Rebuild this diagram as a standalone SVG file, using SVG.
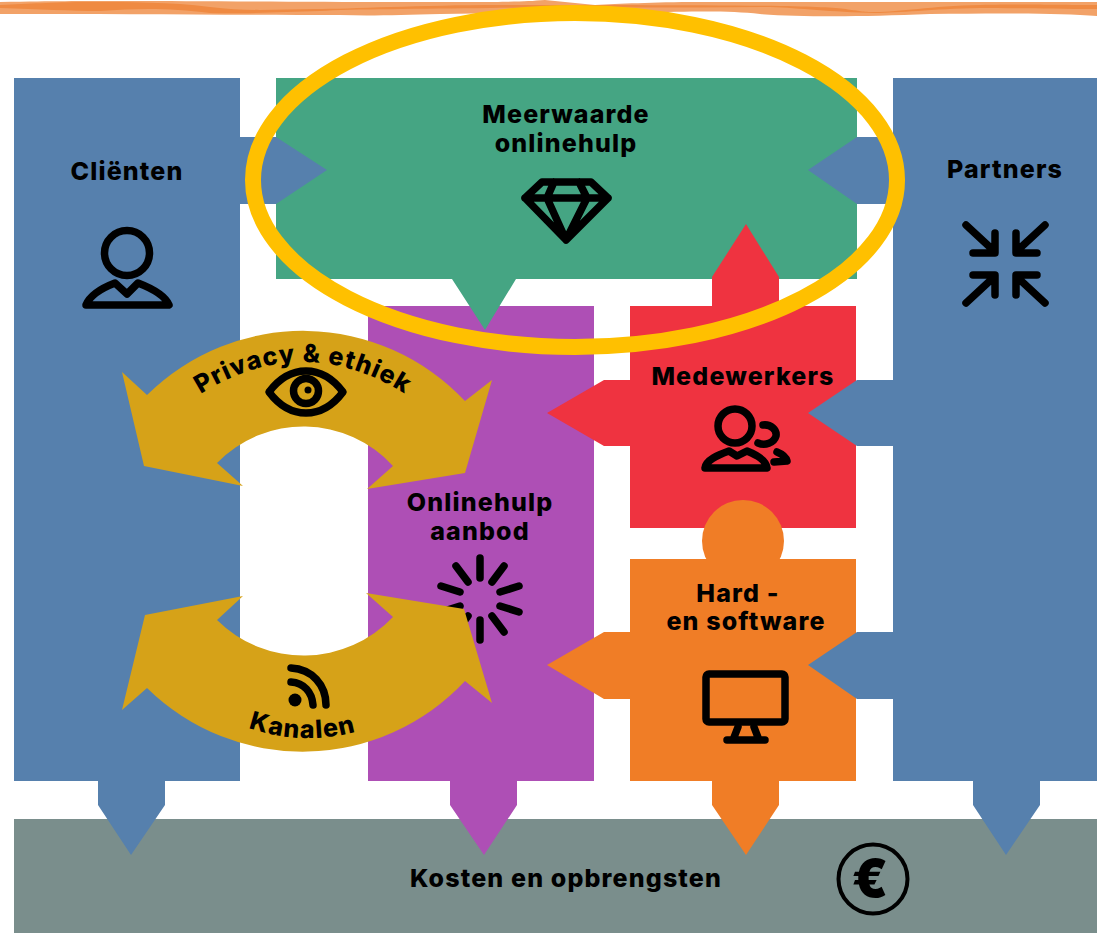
<svg xmlns="http://www.w3.org/2000/svg" width="1097" height="933" viewBox="0 0 1097 933">
<style>
.t{font-family:"Inter","Liberation Sans",sans-serif;font-weight:800;font-size:25px;letter-spacing:1.15px;fill:#000;text-anchor:middle}
.i{fill:none;stroke:#000;stroke-width:7.5;stroke-linecap:round;stroke-linejoin:round}
.blue{fill:#5680ad}.green{fill:#45a583}.purple{fill:#ae4fb5}.red{fill:#ef3340}.orange{fill:#f07d26}.gold{fill:#d6a218}
</style>
<rect width="1097" height="933" fill="#fff"/>
<g id="band">
<path fill="#f2a268" d="M0 2C60 1 70 1 130 1S290 2 400 2 520 2 545 0L595 5C620 4 650 2 700 2S1000 2 1097 2V16C1060 13 1000 13 930 14 860 17 800 17 760 14 730 11 700 11 640 13 560 14 500 13 440 14 400 15 370 16 340 15 240 15 120 14 0 14Z"/>
<path fill="#ef8a42" d="M0 5C30 4 50 2 90 2S170 2 210 7 280 9 315 9 420 5 500 5 700 5 780 6 850 12 875 12 930 6 980 5 1040 5 1097 5V9C1050 9 1010 8 980 8 930 9 900 13 875 13 830 12 800 8 770 7 680 8 580 7 490 8 420 9 350 9 320 11 280 12 240 14 210 13 170 8 140 8 100 11 70 11 40 9 0 8Z"/>
</g>
<g id="kosten">
<rect x="14" y="819" width="1083" height="114" fill="#7a8e8c"/>
<text class="t" x="566" y="887">Kosten en opbrengsten</text>
<circle cx="873" cy="879" r="34.5" fill="none" stroke="#000" stroke-width="4"/>
<text x="870" y="897" text-anchor="middle" font-family="Inter,'Liberation Sans',sans-serif" font-weight="900" font-size="52">€</text>
</g>
<g id="aanbod">
<path class="purple" d="M368 306H594V781H517V805L484 855 450 805V781H368Z"/>
<text class="t" y="511"><tspan x="480">Onlinehulp</tspan><tspan x="480" dy="29">aanbod</tspan></text>
<path class="i" d="M480 558V578M504 566 492 582M519 586 500 592M519 612 500 606M504 632 492 616M480 640V620M456 632 468 616M441 612 460 606M441 586 460 592M456 566 468 582" stroke-width="7"/>
</g>
<g id="meerwaarde">
<path class="green" d="M276 78H857V279H516L485 330 452 279H276Z"/>
<text class="t" y="123"><tspan x="566">Meerwaarde</tspan><tspan x="566" dy="29">onlinehulp</tspan></text>
<path class="i" d="M542 182H591L608 198 566 240 525 198ZM525 198H608M554 182 547 198 566 240 587 198 579 182" stroke-width="7"/>
</g>
<g id="medewerkers">
<path class="red" d="M630 306H712V277L746 224 779 277V306H856V528H630V446H604L547 413 604 380H630Z"/>
<text class="t" x="743" y="385">Medewerkers</text>
<circle class="i" cx="735" cy="426" r="17" stroke-width="7"/>
<path class="i" d="M705 468C706 460 718 455 729 451L737 456 747 451C757 455 766 460 767 468Z" stroke-width="7"/>
<path class="i" d="M763 425C771 424 777 430 776 436 774 443 765 446 758 443" stroke-width="5"/>
<path class="i" d="M777 452C782 454 786 457 787 461L774 462" stroke-width="5"/>
</g>
<g id="software">
<circle class="orange" cx="743" cy="541" r="41"/>
<path class="orange" d="M630 559H856V781H779V805L746 855 712 805V781H630V699H604L547 665 604 632H630Z"/>
<text class="t" y="602"><tspan x="738">Hard -</tspan><tspan x="746" dy="28">en software</tspan></text>
<rect class="i" x="706" y="674" width="79" height="48" rx="3"/>
<path class="i" d="M738 727 733 740H759L754 727M727 740H765" stroke-width="6"/>
</g>
<g id="clienten">
<path class="blue" d="M14 78H240V137H276L327 170 276 204H240V781H165V805L131 855 98 805V781H14Z"/>
<text class="t" x="127" y="180">Cliënten</text>
<circle class="i" cx="127" cy="253" r="22.5" stroke-width="7"/>
<path class="i" d="M86 305C90 295 102 288 115 283L127 294 138 283C151 288 165 295 169 305Z" stroke-width="7"/>
</g>
<g id="partners">
<path class="blue" d="M893 78H1097V781H1040V805L1006 855 973 805V781H893V699H857L808 665 857 632H893V446H857L808 413 857 380H893V204H857L808 170 857 137H893Z"/>
<text class="t" x="1005" y="178">Partners</text>
<path class="i" d="M966 225 993 250M973 253H995V233M1045 225 1018 250M1016 233V253H1037M966 303 993 278M973 275H995V295M1045 303 1018 278M1016 295V275H1037"/>
</g>
<g id="privacy">
<path class="gold" d="M122 372 147 395A222 222 0 0 1 465 401L492 380 465 473 367 489 393 466A121 121 0 0 0 217 463L243 486 144 466Z"/>
<path id="pArc" d="M186 404Q303 320 420 404" fill="none"/>
<text class="t"><textPath href="#pArc" startOffset="50%">Privacy &amp; ethiek</textPath></text>
<path class="i" d="M269 392C290 364 322 364 343 392 322 420 290 420 269 392Z" stroke-width="5"/>
<circle class="i" cx="306" cy="391" r="12.5" stroke-width="4"/>
<circle cx="308" cy="390" r="3.5"/>
</g>
<g id="kanalen">
<path class="gold" d="M243 596 217 620A123 123 0 0 0 393 617L366 593 464 609 492 703 465 681A222 222 0 0 1 147 688L122 710 145 615Z"/>
<path id="kArc" d="M243 726Q303 748 362 730" fill="none"/>
<text class="t"><textPath href="#kArc" startOffset="50%">Kanalen</textPath></text>
<circle cx="295" cy="700" r="6.5"/>
<path class="i" d="M291 682C304 683 312 692 313 705" stroke-width="5.5"/>
<path class="i" d="M291 668C312 669 326 685 326 705" stroke-width="5.5"/>
</g>
<ellipse id="highlight" cx="575" cy="180" rx="322" ry="167" fill="none" stroke="#ffc000" stroke-width="16"/>
</svg>
